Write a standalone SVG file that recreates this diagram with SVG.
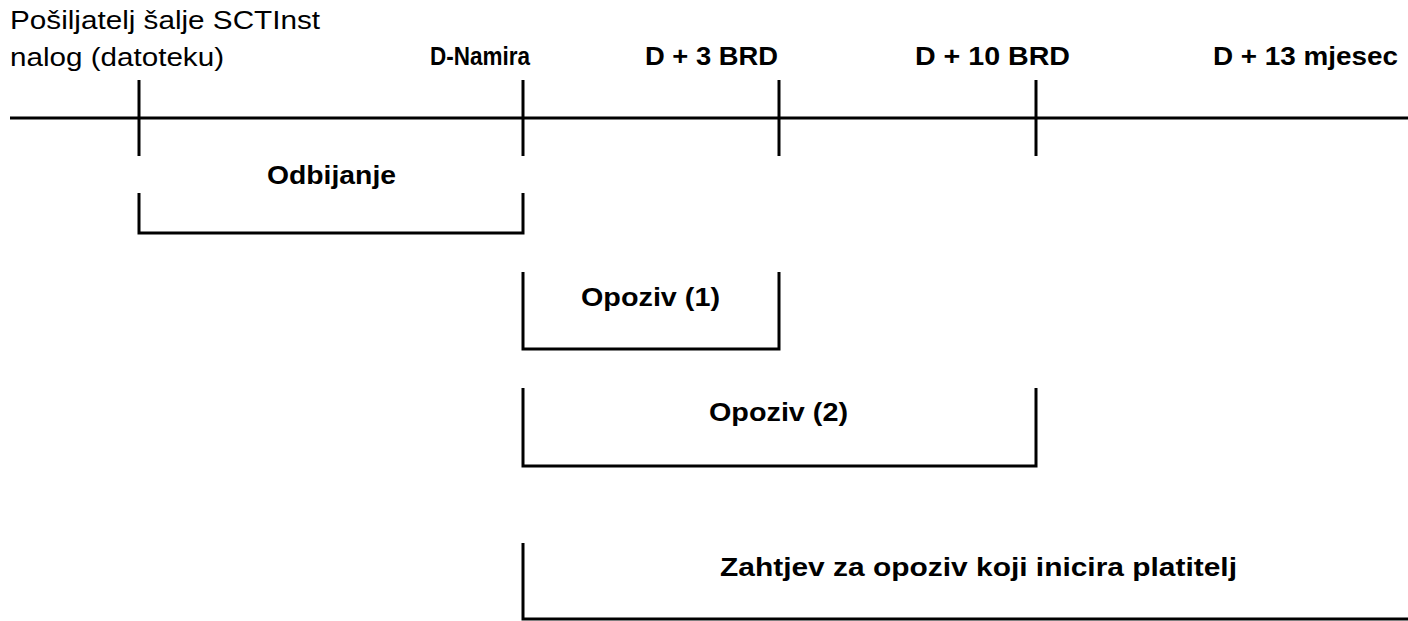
<svg xmlns="http://www.w3.org/2000/svg" width="1408" height="621" viewBox="0 0 1408 621">
<style>
.ln{stroke:#000;stroke-width:3;fill:none;stroke-linecap:butt}
.t{font-family:"Liberation Sans",Arial,sans-serif;font-size:25px;fill:#000}
.r{font-size:26px}
.b{font-weight:bold}
</style>
<rect width="1408" height="621" fill="#fff"/>
<g id="connectors">
<line class="ln" x1="10" y1="118" x2="1408" y2="118"/>
<line class="ln" x1="139" y1="80" x2="139" y2="156"/>
<line class="ln" x1="523" y1="80" x2="523" y2="156"/>
<line class="ln" x1="779" y1="80" x2="779" y2="156"/>
<line class="ln" x1="1036" y1="80" x2="1036" y2="156"/>
</g>
<g id="timeline-labels">
<text class="t r" x="10" y="29" textLength="310" lengthAdjust="spacingAndGlyphs">Pošiljatelj šalje SCTInst</text>
<text class="t r" x="10" y="66" textLength="214" lengthAdjust="spacingAndGlyphs">nalog (datoteku)</text>
<text class="t b" x="430" y="65" textLength="100" lengthAdjust="spacingAndGlyphs">D-Namira</text>
<text class="t b" x="645" y="65" textLength="133" lengthAdjust="spacingAndGlyphs">D + 3 BRD</text>
<text class="t b" x="915" y="65" textLength="155" lengthAdjust="spacingAndGlyphs">D + 10 BRD</text>
<text class="t b" x="1213" y="65" textLength="185" lengthAdjust="spacingAndGlyphs">D + 13 mjesec</text>
</g>
<g id="odbijanje">
<path class="ln" d="M139 193 V233 H523 V193"/>
<text class="t b" x="267" y="184" textLength="129" lengthAdjust="spacingAndGlyphs">Odbijanje</text>
</g>
<g id="opoziv1">
<path class="ln" d="M523 272 V349 H779 V272"/>
<text class="t b" x="581" y="306" textLength="139" lengthAdjust="spacingAndGlyphs">Opoziv (1)</text>
</g>
<g id="opoziv2">
<path class="ln" d="M523 388 V466 H1036 V388"/>
<text class="t b" x="709" y="421" textLength="139" lengthAdjust="spacingAndGlyphs">Opoziv (2)</text>
</g>
<g id="zahtjev">
<path class="ln" d="M523 543 V619 H1408"/>
<text class="t b" x="720" y="576" textLength="517" lengthAdjust="spacingAndGlyphs">Zahtjev za opoziv koji inicira platitelj</text>
</g>
</svg>
